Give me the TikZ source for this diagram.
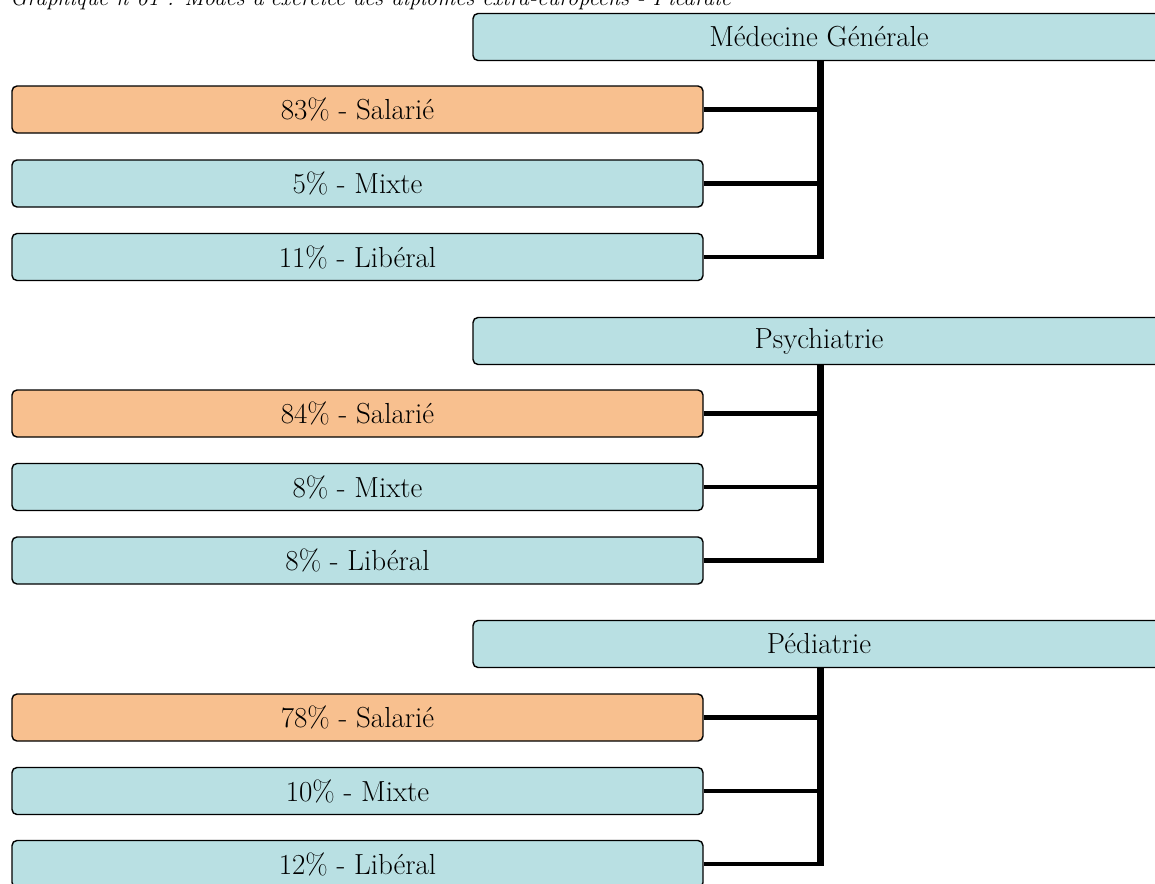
\documentclass[tikz,border=0pt]{standalone}
\usepackage{fontspec}
\definecolor{tealbox}{HTML}{B9E0E3}
\definecolor{orangebox}{HTML}{F8C08F}
\begin{document}
\begin{tikzpicture}[x=1pt,y=-1pt,
  box/.style={draw=black,line width=1.4pt,rounded corners=5pt,minimum height=47pt,inner sep=0pt,font=\fontsize{29}{33}\selectfont},
  head/.style={box,fill=tealbox,minimum width=692pt},
  child/.style={box,fill=tealbox,minimum width=691pt},
  sal/.style={child,fill=orangebox},
  conn/.style={line width=4.5pt,draw=black}]
\useasboundingbox (0,0) rectangle (1155,883);
\node[anchor=base west,inner sep=0pt,font=\itshape\fontsize{22.5}{26}\selectfont] (title) at (10,6) {Graphique n°61 : Modes d'exercice des diplômes extra-européens - Picardie};
% group 1
\node[head] (h1) at (819,37) {Médecine Générale};
\node[sal] (a1) at (357.5,109.5) {83\% - Salarié};
\node[child] (b1) at (357.5,183.5) {5\% - Mixte};
\node[child] (c1) at (357.5,257) {11\% - Libéral};
% group 2
\node[head] (h2) at (819,341) {Psychiatrie};
\node[sal] (a2) at (357.5,413.5) {84\% - Salarié};
\node[child] (b2) at (357.5,487) {8\% - Mixte};
\node[child] (c2) at (357.5,560.5) {8\% - Libéral};
% group 3
\node[head] (h3) at (819,644) {Pédiatrie};
\node[sal] (a3) at (357.5,717.5) {78\% - Salarié};
\node[child] (b3) at (357.5,791) {10\% - Mixte};
\node[child] (c3) at (357.5,864) {12\% - Libéral};
\foreach \g in {1,2,3}{
  \draw[conn] (h\g.south) -- (h\g.south |- c\g.east);
  \draw[conn] (a\g.east) -- (a\g.east -| h\g.south);
  \draw[conn] (b\g.east) -- (b\g.east -| h\g.south);
  \draw[conn,line join=miter] (c\g.east) -- ([xshift=2.25pt]c\g.east -| h\g.south) -- ([xshift=2.25pt]h\g.south);
}
\end{tikzpicture}
\end{document}
